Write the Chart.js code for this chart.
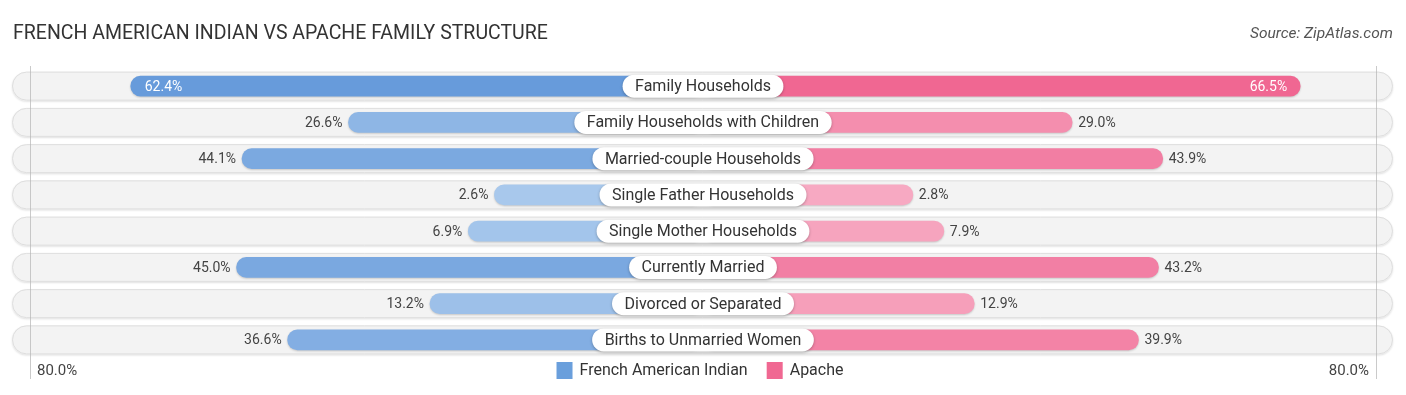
<!DOCTYPE html>
<html>
<head>
<meta charset="utf-8">
<script src="https://cdn.jsdelivr.net/npm/chart.js@4.4.1/dist/chart.umd.min.js"></script>
<style>
  html,body{margin:0;padding:0;background:#fff;}
  #wrap{position:relative;width:1406px;height:395px;}
</style>
</head>
<body>
<div id="wrap"><canvas id="fs-chart"></canvas></div>
<script>
const categories = [
  'Family Households',
  'Family Households with Children',
  'Married-couple Households',
  'Single Father Households',
  'Single Mother Households',
  'Currently Married',
  'Divorced or Separated',
  'Births to Unmarried Women'
];
const frenchAmericanIndian = [62.4, 26.6, 44.1, 2.6, 6.9, 45.0, 13.2, 36.6];
const apache = [66.5, 29.0, 43.9, 2.8, 7.9, 43.2, 12.9, 39.9];
const seriesNames = ['French American Indian', 'Apache'];
const axisMaxLabel = '80.0%';

// bars start under the centre label, so every bar gets a fixed lead-in
const OFF = 31.7;
const XLIM = 115.6;
const FONT = 'Roboto, "Open Sans", sans-serif';

function mix(a, b, t){
  const pa = a.match(/\w\w/g).map(h=>parseInt(h,16));
  const pb = b.match(/\w\w/g).map(h=>parseInt(h,16));
  return 'rgb(' + pa.map((v,i)=>Math.round(v+(pb[i]-v)*t)).join(',') + ')';
}
const maxAll = Math.max(...frenchAmericanIndian, ...apache);
const blueCols = frenchAmericanIndian.map(v=>mix('abcaed','6298da',v/maxAll));
const pinkCols = apache.map(v=>mix('f7acc4','f06792',v/maxAll));

function pill(ctx, x, y, w, h){
  const r = h/2;
  ctx.beginPath();
  ctx.moveTo(x+r, y);
  ctx.lineTo(x+w-r, y);
  ctx.arc(x+w-r, y+r, r, -Math.PI/2, Math.PI/2);
  ctx.lineTo(x+r, y+h);
  ctx.arc(x+r, y+r, r, Math.PI/2, Math.PI*1.5);
  ctx.closePath();
}

const decor = {
  id: 'decor',
  beforeDatasetsDraw(chart){
    const {ctx, scales:{x, y}} = chart;
    // row backgrounds
    categories.forEach((c, i)=>{
      const cy = y.getPixelForValue(i);
      ctx.save();
      ctx.shadowColor = 'rgba(0,0,0,0.12)';
      ctx.shadowBlur = 2;
      ctx.shadowOffsetY = 1;
      pill(ctx, 12, cy-14.5, 1381, 29);
      ctx.fillStyle = '#f3f3f3';
      ctx.fill();
      ctx.restore();
      ctx.save();
      pill(ctx, 12.5, cy-14, 1380, 28);
      ctx.strokeStyle = '#dedede';
      ctx.lineWidth = 1;
      ctx.stroke();
      ctx.restore();
    });
    // outer grid lines
    ctx.save();
    ctx.strokeStyle = 'rgba(180,180,180,0.7)';
    ctx.lineWidth = 1;
    [30.5, 1376.5].forEach(px=>{
      ctx.beginPath();
      ctx.moveTo(px, 66);
      ctx.lineTo(px, 379);
      ctx.stroke();
    });
    ctx.restore();
    ctx.save();
    ctx.shadowColor = 'rgba(0,0,0,0.18)';
    ctx.shadowBlur = 2;
    ctx.shadowOffsetY = 1;
  },
  afterDatasetsDraw(chart){
    const {ctx, scales:{x, y}} = chart;
    ctx.restore();
    categories.forEach((c, i)=>{
      const cy = y.getPixelForValue(i);
      const cx = x.getPixelForValue(0);
      // centre label pill
      ctx.save();
      ctx.font = '16px ' + FONT;
      const tw = ctx.measureText(c).width;
      const w = tw + 25;
      ctx.shadowColor = 'rgba(0,0,0,0.28)';
      ctx.shadowBlur = 3;
      ctx.shadowOffsetY = 1;
      pill(ctx, cx - w/2, cy - 11.5, w, 23);
      ctx.fillStyle = '#ffffff';
      ctx.fill();
      ctx.restore();
      ctx.save();
      ctx.font = '16px ' + FONT;
      ctx.fillStyle = '#333333';
      ctx.textAlign = 'center';
      ctx.textBaseline = 'middle';
      ctx.fillText(c, cx, cy + 1);
      ctx.restore();

      // value labels
      const lv = frenchAmericanIndian[i], rv = apache[i];
      const lx = x.getPixelForValue(-(lv + OFF));
      const rx = x.getPixelForValue(rv + OFF);
      ctx.save();
      ctx.font = '14px ' + FONT;
      ctx.textBaseline = 'middle';
      if (lv >= 55){
        ctx.fillStyle = '#ffffff';
        ctx.textAlign = 'left';
        ctx.fillText(lv.toFixed(1)+'%', lx + 14, cy + 1);
      } else {
        ctx.fillStyle = '#444444';
        ctx.textAlign = 'right';
        ctx.fillText(lv.toFixed(1)+'%', lx - 6, cy + 1);
      }
      if (rv >= 55){
        ctx.fillStyle = '#ffffff';
        ctx.textAlign = 'right';
        ctx.fillText(rv.toFixed(1)+'%', rx - 13, cy + 1);
      } else {
        ctx.fillStyle = '#444444';
        ctx.textAlign = 'left';
        ctx.fillText(rv.toFixed(1)+'%', rx + 6, cy + 1);
      }
      ctx.restore();
    });
  },
  afterDraw(chart){
    const {ctx} = chart;
    ctx.save();
    // title and source
    ctx.fillStyle = '#333333';
    ctx.font = '19.5px ' + FONT;
    ctx.textBaseline = 'middle';
    ctx.textAlign = 'left';
    ctx.fillText('FRENCH AMERICAN INDIAN VS APACHE FAMILY STRUCTURE', 13, 34);
    ctx.fillStyle = '#555555';
    ctx.font = 'italic 15.5px ' + FONT;
    ctx.textAlign = 'right';
    ctx.fillText('Source: ZipAtlas.com', 1393, 34);

    // axis end labels
    ctx.fillStyle = '#444444';
    ctx.font = '15px ' + FONT;
    ctx.textAlign = 'left';
    ctx.fillText(axisMaxLabel, 37, 371);
    ctx.textAlign = 'right';
    ctx.fillText(axisMaxLabel, 1369, 371);

    // legend
    const cols = ['#6a9fdc', '#f06892'];
    ctx.font = '16px ' + FONT;
    const items = seriesNames.map((n, i)=>({n, c: cols[i], w: ctx.measureText(n).width}));
    const total = items.reduce((s, it)=>s + 16 + 7 + it.w, 0) + 19;
    let lx = 700 - total/2;
    items.forEach(it=>{
      ctx.fillStyle = it.c;
      ctx.fillRect(lx, 362, 16, 17);
      ctx.fillStyle = '#333333';
      ctx.textAlign = 'left';
      ctx.fillText(it.n, lx + 23, 371);
      lx += 16 + 7 + it.w + 19;
    });
    ctx.restore();
  }
};

new Chart(document.getElementById('fs-chart'), {
  type: 'bar',
  data: {
    labels: categories,
    datasets: [
      {
        label: seriesNames[0],
        data: frenchAmericanIndian.map(v=>[-(v + OFF), 0]),
        backgroundColor: blueCols,
        borderRadius: 10,
        borderSkipped: false,
        barThickness: 20,
        grouped: false
      },
      {
        label: seriesNames[1],
        data: apache.map(v=>[0, v + OFF]),
        backgroundColor: pinkCols,
        borderRadius: 10,
        borderSkipped: false,
        barThickness: 20,
        grouped: false
      }
    ]
  },
  options: {
    indexAxis: 'y',
    responsive: true,
    maintainAspectRatio: false,
    animation: false,
    layout: {padding: {top: 68, bottom: 37, left: 0, right: 0}},
    plugins: {legend: {display: false}, tooltip: {enabled: false}},
    scales: {
      x: {display: false, min: -XLIM, max: XLIM},
      y: {display: false}
    }
  },
  plugins: [decor]
});
</script>
</body>
</html>
